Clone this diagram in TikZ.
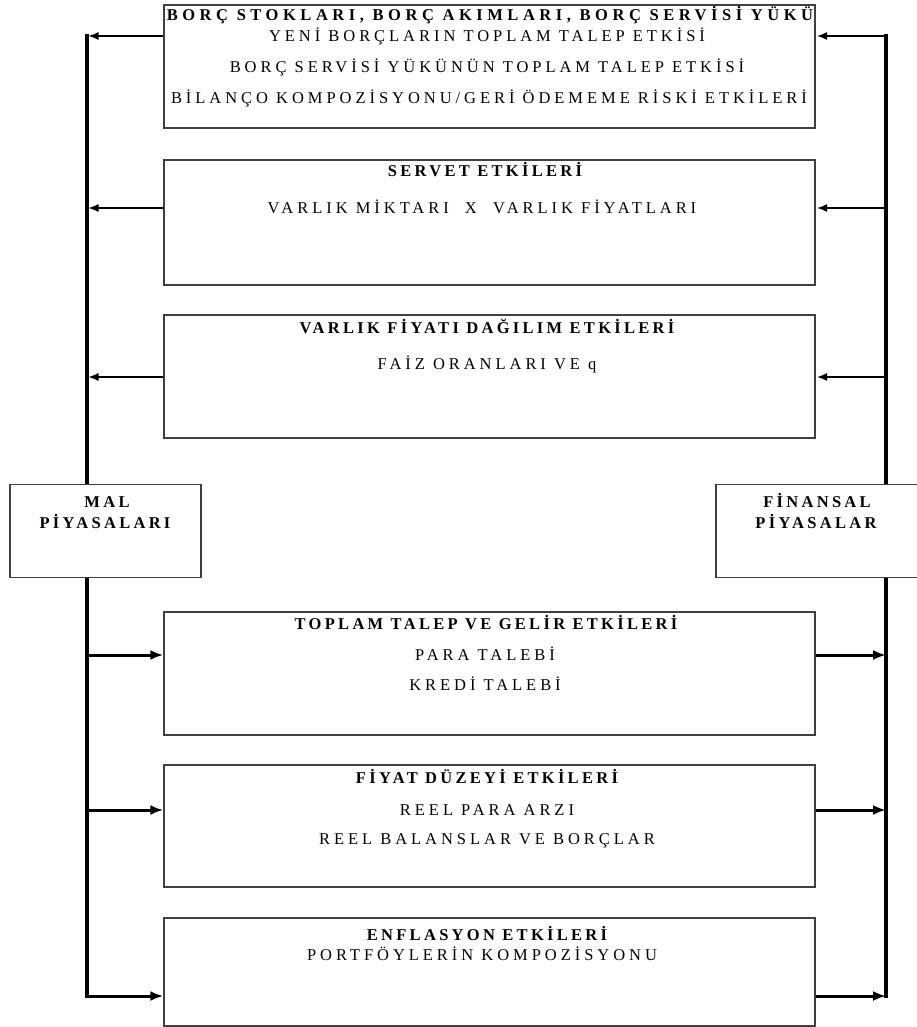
\documentclass[tikz,border=0pt]{standalone}
\usepackage{fontspec}
\setmainfont{Liberation Serif}
\newfontfamily\kutufont[LetterSpace=24]{Liberation Serif}
\newfontfamily\baslikfont[LetterSpace=20]{Liberation Serif}
\newfontfamily\genisfont[LetterSpace=27.5]{Liberation Serif}
\usetikzlibrary{arrows.meta,positioning}

\tikzset{
  kutu/.style={draw=black!75, line width=1.3pt, fill=white, minimum width=651pt, inner sep=0pt},
  piyasa/.style={draw=black!75, line width=1.3pt, fill=white, minimum height=93pt, inner sep=0pt},
  baslik/.style={font=\baslikfont\fontsize{16.5}{19}\selectfont\bfseries, inner sep=0pt, anchor=base},
  satir/.style={font=\kutufont\fontsize{16.5}{19}\selectfont, inner sep=0pt, anchor=base},
  ince/.style={line width=1.2pt, -{Latex[length=10pt,width=8pt]}, shorten >=1.5pt},
  kalin/.style={line width=3pt, -{Latex[length=13pt,width=10pt]}},
  hat/.style={line width=3.5pt, line cap=rect},
}

\begin{document}
\begin{tikzpicture}[x=1pt, y=-1pt]
    \useasboundingbox (0,0) rectangle (917,1027);

    % dikey hatlar
    \coordinate (sol1) at (87,36);
    \coordinate (sol2) at (87,208);
    \coordinate (sol3) at (87,377);
    \coordinate (sol4) at (87,655);
    \coordinate (sol5) at (87,810);
    \coordinate (sol6) at (87,996);
    \coordinate (sag1) at (886,36);
    \coordinate (sag2) at (886,208);
    \coordinate (sag3) at (886,377);
    \coordinate (sag4) at (886,655);
    \coordinate (sag5) at (886,810);
    \coordinate (sag6) at (886,996);
    \draw[hat] (sol1) -- (sol6);
    \draw[hat] (sag1) -- (sag6);

    % kutular
    \node[kutu, minimum height=123pt] at (489.5,66.5)(b1){};
    \node[kutu, minimum height=125pt] at (489.5,222.5)(b2){};
    \node[kutu, minimum height=123pt] at (489.5,376.5)(b3){};
    \node[kutu, minimum height=123pt] at (489.5,673.5)(b4){};
    \node[kutu, minimum height=122pt] at (489.5,826)(b5){};
    \node[kutu, minimum height=108pt] at (489.5,972)(b6){};
    \node[piyasa, minimum width=191pt] at (105.5,531)(mal){};
    \node[piyasa, minimum width=205pt] at (818.5,531)(fin){};

    % metinler
    \node[baslik, font=\genisfont\fontsize{16.5}{19}\selectfont\bfseries] at (490,21)(t11){BORÇ STOKLARI, BORÇ AKIMLARI, BORÇ SERVİSİ YÜKÜ};
    \node[satir] at (487,42)(t12){YENİ BORÇLARIN TOPLAM TALEP ETKİSİ};
    \node[satir] at (487,73)(t13){BORÇ SERVİSİ YÜKÜNÜN TOPLAM TALEP ETKİSİ};
    \node[satir] at (489,104)(t14){BİLANÇO KOMPOZİSYONU/GERİ ÖDEMEME RİSKİ ETKİLERİ};
    \node[baslik] at (485,177)(t21){SERVET ETKİLERİ};
    \node[satir] at (482,213)(t22){VARLIK MİKTARI \ X \ VARLIK FİYATLARI};
    \node[baslik] at (487,333)(t31){VARLIK FİYATI DAĞILIM ETKİLERİ};
    \node[satir] at (487,369)(t32){FAİZ ORANLARI VE q};
    \node[baslik] at (107,507)(m1){MAL};
    \node[baslik] at (105,528)(m2){PİYASALARI};
    \node[baslik] at (817,507)(f1){FİNANSAL};
    \node[baslik] at (816,528)(f2){PİYASALAR};
    \node[baslik] at (486,629)(t41){TOPLAM TALEP VE GELİR ETKİLERİ};
    \node[satir] at (485,660)(t42){PARA TALEBİ};
    \node[satir] at (485,690)(t43){KREDİ TALEBİ};
    \node[baslik] at (487,783)(t51){FİYAT DÜZEYİ ETKİLERİ};
    \node[satir] at (487,815)(t52){REEL PARA ARZI};
    \node[satir] at (487,844)(t53){REEL BALANSLAR VE BORÇLAR};
    \node[baslik] at (487,940)(t61){ENFLASYON ETKİLERİ};
    \node[satir] at (482,960)(t62){PORTFÖYLERİN KOMPOZİSYONU};

    % oklar
    \path[ince]
        (b1.west |- sol1) edge (sol1)
        (b2.west |- sol2) edge (sol2)
        (b3.west |- sol3) edge (sol3)
        (sag1) edge (b1.east |- sag1)
        (sag2) edge (b2.east |- sag2)
        (sag3) edge (b3.east |- sag3)
        ;
    \path[kalin]
        (sol4) edge (b4.west |- sol4)
        (sol5) edge (b5.west |- sol5)
        (sol6) edge (b6.west |- sol6)
        (b4.east |- sag4) edge (sag4)
        (b5.east |- sag5) edge (sag5)
        (b6.east |- sag6) edge (sag6)
        ;
\end{tikzpicture}
\end{document}
